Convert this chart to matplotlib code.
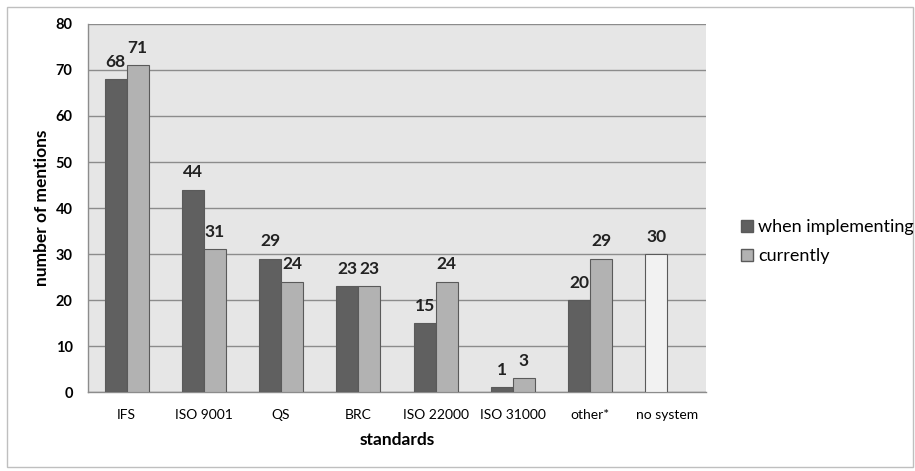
import matplotlib
matplotlib.use("Agg")
import matplotlib.pyplot as plt
from matplotlib.patches import Rectangle, Patch
import numpy as np

plt.rcParams["font.family"] = ["Lato", "DejaVu Sans"]

categories = ["IFS", "ISO 9001", "QS", "BRC", "ISO 22000", "ISO 31000", "other*", "no system"]
when_implementing = [68, 44, 29, 23, 15, 1, 20, 30]
currently = [71, 31, 24, 23, 24, 3, 29, None]

DARK = "#606060"
LIGHT = "#B2B2B2"
PALE = "#F2F2F2"
EDGE = "#5A5A5A"

fig = plt.figure(figsize=(9.15, 4.71), dpi=100)
ax = fig.add_axes([88 / 915, 1 - 392 / 471, (706 - 88) / 915, (392 - 24) / 471])
ax.set_facecolor("#E6E6E6")

x = np.arange(len(categories))
w = 0.285
dark_colors = [DARK] * (len(categories) - 1) + [PALE]
bars1 = ax.bar(x - w / 2, when_implementing, w, color=dark_colors,
               edgecolor=EDGE, linewidth=0.8, zorder=3)
cur_x = [xi + w / 2 for xi, v in zip(x, currently) if v is not None]
cur_v = [v for v in currently if v is not None]
bars2 = ax.bar(cur_x, cur_v, w, color=LIGHT, edgecolor=EDGE, linewidth=0.8, zorder=3)

for bar in list(bars1) + list(bars2):
    h = bar.get_height()
    ax.text(bar.get_x() + bar.get_width() / 2, h + 2.0, f"{h:g}",
            ha="center", va="bottom", fontsize=12.5, fontweight="bold", color="#222222")

ax.set_xlim(-0.5, len(categories) - 0.5)
ax.set_ylim(0, 80)
ax.set_yticks(range(0, 81, 10))
ax.yaxis.grid(True, color="#8C8C8C", linewidth=1.0, zorder=0)
ax.set_axisbelow(True)
ax.set_xticks(x)
ax.set_xticklabels(categories, fontsize=10)
ax.tick_params(axis="y", labelsize=10.5, length=0, pad=11)
ax.tick_params(axis="x", length=0, pad=12)
for lbl in ax.get_yticklabels():
    lbl.set_fontweight("bold")
for side in ["top", "right"]:
    ax.spines[side].set_visible(False)
for side in ["bottom", "left"]:
    ax.spines[side].set_color("#8C8C8C")
    ax.spines[side].set_linewidth(1.0)

ax.set_xlabel("standards", fontsize=12.5, fontweight="bold", labelpad=8)
ax.set_ylabel("number of mentions", fontsize=12.5, fontweight="bold", labelpad=4)

handles = [Patch(facecolor=DARK, edgecolor=EDGE, label="when implementing"),
           Patch(facecolor=LIGHT, edgecolor=EDGE, label="currently")]
fig.legend(handles=handles, loc="upper left", bbox_to_anchor=(725 / 915, 1 - 203 / 471),
           frameon=False, fontsize=13, handlelength=0.65, handleheight=0.65,
           handletextpad=0.3, labelspacing=0.7)

fig.patches.append(Rectangle((7 / 915, 4 / 471), 906 / 915, 460 / 471,
                             transform=fig.transFigure, fill=False,
                             edgecolor="#BFBFBF", linewidth=1.0))

fig.savefig("out.png", dpi=100)
